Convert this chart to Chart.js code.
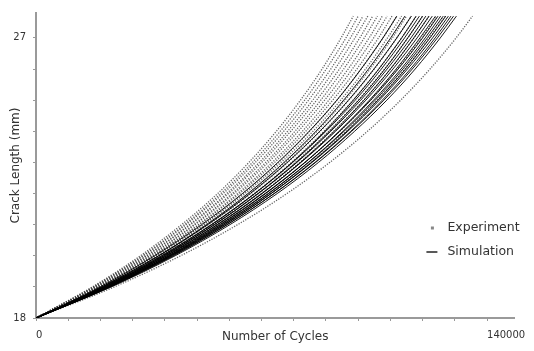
<!DOCTYPE html>
<html><head><meta charset="utf-8">
<script src="https://cdn.jsdelivr.net/npm/chart.js@4"></script>
<style>html,body{margin:0;padding:0;background:#fff}</style>
</head><body>
<canvas id="c" width="534" height="351"></canvas>
<script>
// crack length grid (mm) at which cycles were read
const crackLengths = [18, 19, 20, 21, 22, 23, 24, 25, 26, 27, 27.7];

// Simulation: number of cycles to reach each crack length
const simulationCycles = [
  [0,19900,36800,51400,64100,75100,84800,93400,100900,107700,112000],
  [0,20600,38100,52900,65800,77000,86900,95500,103200,110100,114500],
  [0,20500,38100,53300,66500,78000,88100,97000,104900,112000,116500],
  [0,21200,39200,54600,67900,79500,89600,98500,106400,113500,118000],
  [0,20900,38900,54400,67900,79700,90000,99100,107200,114400,119000],
  [0,21500,39800,55400,69000,80800,91100,100200,108300,115400,120000],
  [0,21300,39600,55400,69000,81000,91500,100800,109000,116400,121000],
  [0,21900,40500,56400,70200,82100,92600,101800,110000,117300,122000],
  [0,21600,40200,56200,70100,82300,93000,102400,110800,118300,123000],
  [0,22300,41200,57300,71300,83500,94100,103500,111800,119200,124000],
  [0,21900,40700,57000,71100,83500,94300,103900,112400,120000,124800],
  [0,22500,41600,58000,72200,84500,95300,104800,113300,120800,125600],
  [0,22200,41300,57800,72100,84600,95600,105300,113900,121500,126400],
  [0,22800,42100,58700,73000,85500,96500,106100,114700,122300,127200],
  [0,22500,41800,58500,73000,85700,96800,106600,115300,123100,128000],
  [0,23100,42700,59400,73900,86600,97700,107500,116200,123900,128800],
  [0,22800,42400,59300,74000,86800,98000,108000,116800,124600,129600],
  [0,23400,43200,60200,74900,87700,98900,108900,117700,125500,130500]
];

// Experiment: number of cycles to reach each crack length
const experimentCycles = [
  [0,17500,32400,45200,56400,66100,74600,82100,88800,94700,98500],
  [0,17900,33100,46100,57400,67200,75800,83400,90100,96200,100000],
  [0,18000,33400,46600,58100,68100,76900,84600,91500,97600,101500],
  [0,18600,34200,47600,59200,69300,78100,85900,92800,99000,103000],
  [0,18500,34400,48000,59800,70100,79100,87100,94200,100500,104500],
  [0,19100,35200,49000,60900,71300,80400,88400,95500,101900,106000],
  [0,19100,35400,49400,61500,72100,81400,89600,96900,103400,107500],
  [0,19700,36200,50400,62600,73300,82700,90900,98200,104800,109000],
  [0,19600,36300,50700,63200,74100,83700,92100,99600,106300,110500],
  [0,20200,37200,51800,64300,75300,84900,93400,100900,107700,112000],
  [0,20100,37300,52100,64900,76100,86000,94600,102300,109100,113500],
  [0,20700,38200,53100,66000,77300,87200,95900,103700,110600,115000],
  [0,20700,38300,53500,66700,78100,88200,97100,105000,112000,116500],
  [0,21300,39300,54600,67800,79300,89400,98400,106400,113500,118000],
  [0,21300,39500,55100,68700,80500,90900,100000,108200,115400,120000],
  [0,21900,40400,56200,69900,81900,92400,101700,110000,117300,122000],
  [0,22100,40900,57200,71200,83500,94300,103800,112200,119700,124500],
  [0,22500,41800,58300,72700,85200,96200,105900,114500,122100,127000],
  [0,24300,44900,62600,77900,91200,102900,113200,122300,130400,135500]
];

const xTickValues = [0,10000,20000,30000,40000,50000,60000,70000,80000,90000,100000,110000,120000,130000,140000];
const xTickLabels = ['0','','','','','','','','','','','','','','140000'];
const yTickValues = [18,19,20,21,22,23,24,25,26,27];
const yTickLabels = ['18','','','','','','','','','27'];

const FONT = 'DejaVu Sans, Liberation Sans, sans-serif';
const toPoints = cyc => cyc.map((n, i) => ({x: n, y: crackLengths[i]}));

const datasets = [];
simulationCycles.forEach(c => datasets.push({
  label: 'Simulation', data: toPoints(c), showLine: true,
  borderColor: 'rgba(0,0,0,0.9)', borderWidth: 1, pointRadius: 0,
  cubicInterpolationMode: 'monotone'
}));
experimentCycles.forEach(c => datasets.push({
  label: 'Experiment', data: toPoints(c), showLine: true,
  borderColor: 'rgba(60,60,60,0.8)', borderWidth: 1.3, borderDash: [1.2, 1.4],
  pointRadius: 0,
  cubicInterpolationMode: 'monotone'
}));

const legendPlugin = {
  id: 'innerLegend',
  afterDraw(chart) {
    const ctx = chart.ctx, a = chart.chartArea;
    const items = [
      {label: 'Experiment', kind: 'dot'},
      {label: 'Simulation', kind: 'line'}
    ];
    ctx.save();
    ctx.font = '12.5px ' + FONT;
    ctx.textBaseline = 'middle';
    items.forEach((it, i) => {
      const y = a.bottom - 90 + i * 24;
      const mx = a.right - 82;
      if (it.kind === 'dot') {
        ctx.fillStyle = '#888';
        ctx.fillRect(mx - 1.5, y - 1.5, 3, 3);
      } else {
        ctx.strokeStyle = '#222'; ctx.lineWidth = 1.5;
        ctx.beginPath(); ctx.moveTo(mx - 6, y); ctx.lineTo(mx + 5, y); ctx.stroke();
      }
      ctx.fillStyle = '#333';
      ctx.fillText(it.label, a.right - 67, y);
    });
    ctx.restore();
  }
};

new Chart(document.getElementById('c'), {
  type: 'scatter',
  data: {datasets},
  plugins: [legendPlugin],
  options: {
    responsive: false, animation: false, devicePixelRatio: 1,
    layout: {padding: {top: 8, right: 14, left: 0, bottom: 0}},
    plugins: {legend: {display: false}, tooltip: {enabled: false}},
    scales: {
      x: {
        type: 'linear', min: 0, max: 148500,
        afterBuildTicks: s => { s.ticks = xTickValues.map(v => ({value: v})); },
        afterFit: s => { s.height = 33; },
        ticks: {
          callback: (v, i) => xTickLabels[i], autoSkip: false, maxRotation: 0,
          align: 'start', padding: 8, color: '#333', font: {family: FONT, size: 10}
        },
        grid: {display: true, drawOnChartArea: false, drawTicks: true, tickLength: 3, color: '#999'},
        border: {display: true, color: '#9a9a9a', width: 2},
        title: {display: true, text: 'Number of Cycles', color: '#333',
          font: {family: FONT, size: 12}, padding: {top: 0, bottom: 7}}
      },
      y: {
        type: 'linear', min: 18, max: 27.8,
        afterBuildTicks: s => { s.ticks = yTickValues.map(v => ({value: v})); },
        afterFit: s => { s.width = 36; },
        ticks: {
          callback: (v, i) => yTickLabels[i], autoSkip: false,
          padding: 7, color: '#333', font: {family: FONT, size: 10}
        },
        grid: {display: true, drawOnChartArea: false, drawTicks: true, tickLength: 3, color: '#999'},
        border: {display: true, color: '#9a9a9a', width: 2},
        title: {display: true, text: 'Crack Length (mm)', color: '#333',
          font: {family: FONT, size: 12}, padding: {top: 9, bottom: 0}}
      }
    }
  }
});
</script>
</body></html>
